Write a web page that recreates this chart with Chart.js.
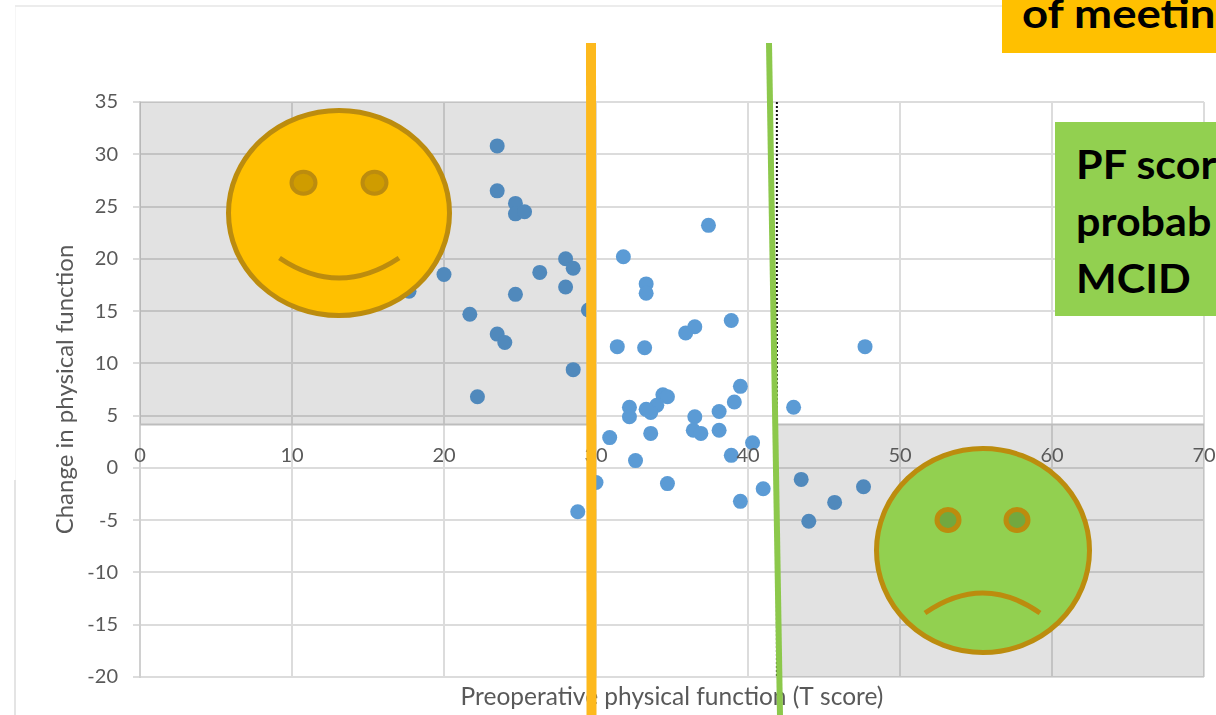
<!DOCTYPE html>
<html>
<head>
<meta charset="utf-8">
<title>Preoperative physical function vs change</title>
<script src="https://cdn.jsdelivr.net/npm/chart.js@4"></script>
<style>
  html, body { margin: 0; padding: 0; background: #fff; }
  body { width: 1216px; height: 715px; position: relative; overflow: hidden; font-family: Lato, sans-serif; }
  #chartBox { position: absolute; left: 0; top: 0; width: 1216px; height: 715px; }
  #overlay { position: absolute; left: 0; top: 0; pointer-events: none; }
  .frameTop { position: absolute; left: 15px; top: 5px; width: 1201px; height: 2px; background: #ececec; }
  .frameLeft { position: absolute; left: 15px; top: 7px; width: 1px; height: 473px; background: #f6f6f6; }
  .frameLow { position: absolute; left: 14px; top: 480px; width: 2px; height: 235px; background: #e4e4e4; }
  .callout { position: absolute; overflow: hidden; color: #000; font-weight: 700; white-space: nowrap; }
  #calloutTop { left: 1002px; top: 0; width: 214px; height: 53px; background: #ffc000; font-size: 41px; line-height: 36px; }
  #calloutTop span { position: absolute; left: 20px; top: -5px; transform: scaleX(1.11); transform-origin: left center; }
  #calloutSide { left: 1055px; top: 122px; width: 161px; height: 194px; background: #92d050; font-size: 41px; line-height: 57px; }
  #calloutSide div { margin-left: 21px; transform: scaleX(1.05); transform-origin: left center; }
  #calloutSide div:first-child { margin-top: 13px; }
</style>
</head>
<body>
<div class="frameTop"></div>
<div class="frameLeft"></div>
<div class="frameLow"></div>
<div id="chartBox"><canvas id="scatterChart" width="1216" height="715"></canvas></div>

<svg id="overlay" width="1216" height="715">
  <!-- cut-off lines laid over the chart -->
  <line x1="591" y1="43" x2="591.5" y2="715" stroke="#fdb91d" stroke-width="10"/>
  <line x1="769" y1="43" x2="780" y2="715" stroke="#8cc84b" stroke-width="6"/>

  <!-- happy face -->
  <ellipse cx="339" cy="213" rx="110.5" ry="102.5" fill="#ffc000" stroke="#bc8c0e" stroke-width="5"/>
  <ellipse cx="303.5" cy="182.7" rx="12" ry="11" fill="#cf9c00" stroke="#bc8c0e" stroke-width="4"/>
  <ellipse cx="374.5" cy="182.7" rx="12" ry="11" fill="#cf9c00" stroke="#bc8c0e" stroke-width="4"/>
  <path d="M279.5 258 Q339 298 399 258" fill="none" stroke="#bc8c0e" stroke-width="5"/>

  <!-- sad face -->
  <ellipse cx="983" cy="550.5" rx="106.5" ry="102" fill="#92d050" stroke="#bc8c0e" stroke-width="5"/>
  <ellipse cx="948" cy="520" rx="11" ry="10.5" fill="#72a83f" stroke="#bc8c0e" stroke-width="5"/>
  <ellipse cx="1017" cy="520" rx="11" ry="10.5" fill="#72a83f" stroke="#bc8c0e" stroke-width="5"/>
  <path d="M925 613 Q983 573 1040 613" fill="none" stroke="#bc8c0e" stroke-width="5"/>
</svg>

<div class="callout" id="calloutTop"><span>of meeting</span></div>
<div class="callout" id="calloutSide"><div>PF scor</div><div>probab</div><div>MCID</div></div>

<script>
// values
const preopScores = [
  23.5, 23.5, 24.7, 24.7, 25.3, 20, 17.7, 21.7, 23.5, 24, 22.2, 26.3, 24.7,
  28, 28.5, 28, 29.5, 28.5, 28.8, 30, 31.8, 33.3, 33.3, 37.4, 38.9, 36.5,
  35.9, 31.4, 33.2, 47.7, 39.5, 39.1, 43, 38.1, 34.4, 34.7, 34, 33.6, 33.3,
  32.2, 32.2, 36.5, 36.4, 36.9, 38.1, 33.6, 30.9, 40.3, 38.9, 32.6, 34.7,
  41, 39.5, 43.5, 47.6, 45.7, 44
];
const changeScores = [
  30.8, 26.5, 25.3, 24.3, 24.5, 18.5, 16.9, 14.7, 12.8, 12, 6.8, 18.7, 16.6,
  20, 19.1, 17.3, 15.1, 9.4, -4.2, -1.4, 20.2, 17.6, 16.7, 23.2, 14.1, 13.5,
  12.9, 11.6, 11.5, 11.6, 7.8, 6.3, 5.8, 5.4, 7, 6.8, 6, 5.3, 5.6,
  5.8, 4.9, 4.9, 3.6, 3.3, 3.6, 3.3, 2.9, 2.4, 1.2, 0.7, -1.5,
  -2, -3.2, -1.1, -1.8, -3.3, -5.1
];

const xTicks = [0, 10, 20, 30, 40, 50, 60, 70];
const yTicks = [35, 30, 25, 20, 15, 10, 5, 0, -5, -10, -15, -20];

const mcidChange = 4.15;
const lowCutoff = 30;
const highCutoff = 41.9;

const textColor = '#595959';
const gridColor = '#dcdcdc';

// grey quadrants go on top of the points, that is why those points look darker
const shadePlugin = {
  id: 'shade',
  afterDatasetsDraw(chart) {
    const { ctx, scales: { x, y } } = chart;
    const midY = y.getPixelForValue(mcidChange);
    const rects = [
      [x.getPixelForValue(0), y.getPixelForValue(35), x.getPixelForValue(lowCutoff), midY],
      [x.getPixelForValue(highCutoff), midY, x.getPixelForValue(70), y.getPixelForValue(-20)]
    ];
    ctx.save();
    ctx.fillStyle = 'rgba(0,0,0,0.115)';
    rects.forEach(r => ctx.fillRect(r[0], r[1], r[2] - r[0], r[3] - r[1]));
    ctx.strokeStyle = '#bdbdbd';
    ctx.lineWidth = 2;
    rects.forEach((r, i) => {
      ctx.beginPath();
      ctx.moveTo(r[0], i === 0 ? r[3] : r[1]);
      ctx.lineTo(r[2], i === 0 ? r[3] : r[1]);
      ctx.stroke();
    });
    ctx.restore();
  }
};

new Chart(document.getElementById('scatterChart'), {
  type: 'scatter',
  plugins: [shadePlugin],
  data: {
    datasets: [
      {
        label: 'Patients',
        data: preopScores.map((v, i) => ({ x: v, y: changeScores[i] })),
        backgroundColor: '#5b9bd5',
        borderWidth: 0,
        pointRadius: 7.5
      },
      {
        label: 'Cut-off',
        data: [{ x: highCutoff, y: 35 }, { x: highCutoff, y: -20 }],
        showLine: true,
        borderColor: '#111',
        borderWidth: 2,
        borderDash: [2, 2],
        pointRadius: 0
      }
    ]
  },
  options: {
    responsive: false,
    animation: false,
    layout: { padding: { left: 51, top: 102, right: 12, bottom: 38 } },
    plugins: { legend: { display: false }, tooltip: { enabled: false } },
    scales: {
      x: {
        type: 'linear',
        position: { y: 0 },
        min: 0,
        max: 70,
        afterBuildTicks: s => { s.ticks = xTicks.map(v => ({ value: v })); },
        // title sits at axis pixel + height, the height is only there to push it below the plot
        afterFit: s => { s.height = 244; },
        grid: { color: gridColor, lineWidth: 2, drawTicks: false },
        border: { color: gridColor, width: 2 },
        ticks: { color: textColor, font: { family: 'Lato', size: 20 }, padding: -24, maxRotation: 0, z: 1 },
        title: {
          display: true,
          text: 'Preoperative physical function (T score)',
          color: textColor,
          font: { family: 'Lato', size: 24.5 },
          padding: 0
        }
      },
      y: {
        type: 'linear',
        min: -20,
        max: 35,
        afterBuildTicks: s => { s.ticks = yTicks.map(v => ({ value: v })); },
        afterFit: s => { s.width = 89; },
        grid: { color: gridColor, lineWidth: 2, tickLength: 7 },
        border: { color: '#d0d0d0', width: 2 },
        ticks: { color: textColor, font: { family: 'Lato', size: 20 }, padding: 15 },
        title: {
          display: true,
          text: 'Change in physical function',
          color: textColor,
          font: { family: 'Lato', size: 24 },
          padding: 0
        }
      }
    }
  }
});
</script>
</body>
</html>
